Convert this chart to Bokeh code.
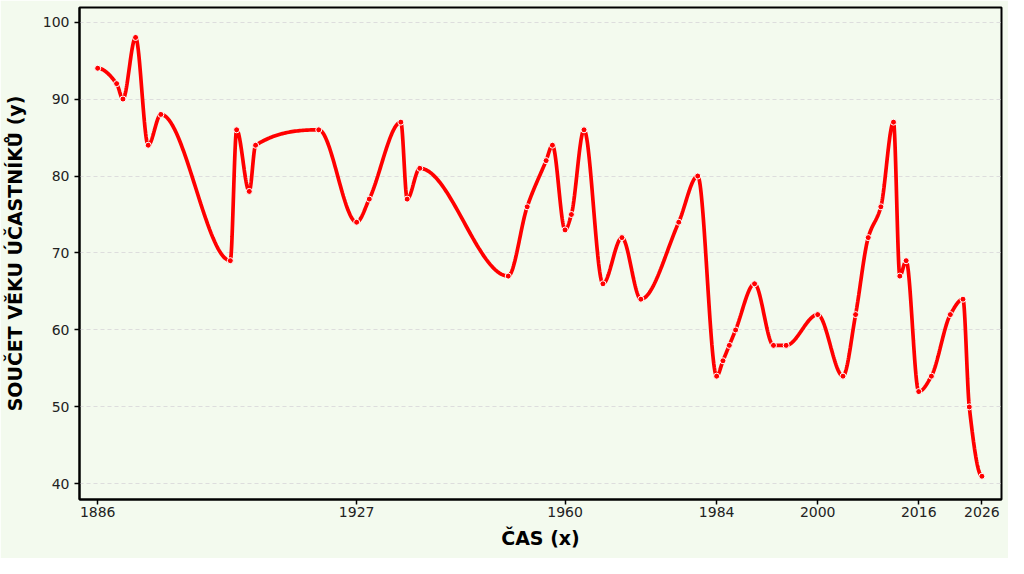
import numpy as np
from bokeh.plotting import figure
from bokeh.models import Range1d, FixedTicker
from bokeh.embed import file_html
from bokeh.resources import INLINE

years = [1886, 1889, 1890, 1892, 1894, 1896, 1907, 1908, 1910, 1911, 1921,
         1927, 1929, 1934, 1935, 1937, 1951, 1954, 1957, 1958, 1960,
         1961, 1963, 1966, 1969, 1972, 1978, 1981, 1984, 1985, 1986,
         1987, 1990, 1993, 1995, 2000, 2004, 2006, 2008, 2010, 2012,
         2013, 2014, 2016, 2018, 2021, 2023, 2024, 2026]
values = [94, 92, 90, 98, 84, 88, 69, 86, 78, 84, 86,
          74, 77, 87, 77, 81, 67, 76, 82, 84, 73,
          75, 86, 66, 72, 64, 74, 80, 54, 56, 58,
          60, 66, 58, 58, 62, 54, 62, 72, 76, 87,
          67, 69, 52, 54, 62, 64, 50, 41]
x_ticks = [1886, 1927, 1960, 1984, 2000, 2016, 2026]
y_ticks = [40, 50, 60, 70, 80, 90, 100]
x_label = "ČAS (x)"
y_label = "SOUČET VĚKU ÚČASTNÍKŮ (y)"


def _edge(h0, h1, m0, m1):
    d = ((2 * h0 + h1) * m0 - h0 * m1) / (h0 + h1)
    if np.sign(d) != np.sign(m0):
        d = 0.0
    elif np.sign(m0) != np.sign(m1) and abs(d) > abs(3 * m0):
        d = 3 * m0
    return d


def monotone_curve(xs, ys, per=40):
    x = np.asarray(xs, float)
    y = np.asarray(ys, float)
    h = np.diff(x)
    m = np.diff(y) / h
    n = len(x)
    d = np.zeros(n)
    for k in range(1, n - 1):
        if m[k - 1] * m[k] <= 0:
            d[k] = 0.0
        else:
            w1 = 2 * h[k] + h[k - 1]
            w2 = h[k] + 2 * h[k - 1]
            d[k] = (w1 + w2) / (w1 / m[k - 1] + w2 / m[k])
    d[0] = _edge(h[0], h[1], m[0], m[1])
    d[-1] = _edge(h[-1], h[-2], m[-1], m[-2])
    cx, cy = [], []
    for k in range(n - 1):
        t = np.linspace(0, 1, per, endpoint=(k == n - 2))
        h00 = 2 * t**3 - 3 * t**2 + 1
        h10 = t**3 - 2 * t**2 + t
        h01 = -2 * t**3 + 3 * t**2
        h11 = t**3 - t**2
        cx.extend(x[k] + t * h[k])
        cy.extend(h00 * y[k] + h10 * h[k] * d[k] + h01 * y[k + 1] + h11 * h[k] * d[k + 1])
    return cx, cy


bg = "#f3faee"
p = figure(width=1008, height=558, output_backend="svg", toolbar_location=None,
           x_range=Range1d(1883.12, 2029.1), y_range=Range1d(37.98, 101.89),
           min_border_left=79, min_border_right=7, min_border_top=7, min_border_bottom=59)
p.background_fill_color = bg
p.border_fill_color = bg
p.outline_line_color = "black"
p.outline_line_width = 2

cx, cy = monotone_curve(years, values)
p.line(cx, cy, line_color="#ff0000", line_width=3.7)
p.scatter(years, values, size=6, fill_color="#ff0000", line_color="white", line_width=1)

for ax in (p.xaxis[0], p.yaxis[0]):
    ax.axis_line_color = "black"
    ax.axis_line_width = 2
    ax.major_tick_line_color = "black"
    ax.major_tick_line_width = 1.5
    ax.major_tick_out = 5
    ax.major_tick_in = 0
    ax.minor_tick_line_color = None
    ax.major_label_text_font = "DejaVu Sans"
    ax.major_label_text_font_size = "14px"
    ax.major_label_text_color = "#222222"
    ax.axis_label_text_font = "DejaVu Sans"
    ax.axis_label_text_font_size = "19px"
    ax.axis_label_text_font_style = "bold"
    ax.axis_label_text_color = "black"

p.xaxis.ticker = FixedTicker(ticks=x_ticks)
p.yaxis.ticker = FixedTicker(ticks=y_ticks)
p.xaxis.axis_label = x_label
p.yaxis.axis_label = y_label
p.xaxis.axis_label_standoff = 7
p.yaxis.axis_label_standoff = 14
p.xaxis.major_label_standoff = 2
p.yaxis.major_label_standoff = 5

p.xgrid.grid_line_color = None
p.ygrid.grid_line_color = "#dddddd"
p.ygrid.grid_line_dash = "4 3"
p.ygrid.grid_line_width = 1

open("out.html", "w").write(file_html(p, INLINE))
